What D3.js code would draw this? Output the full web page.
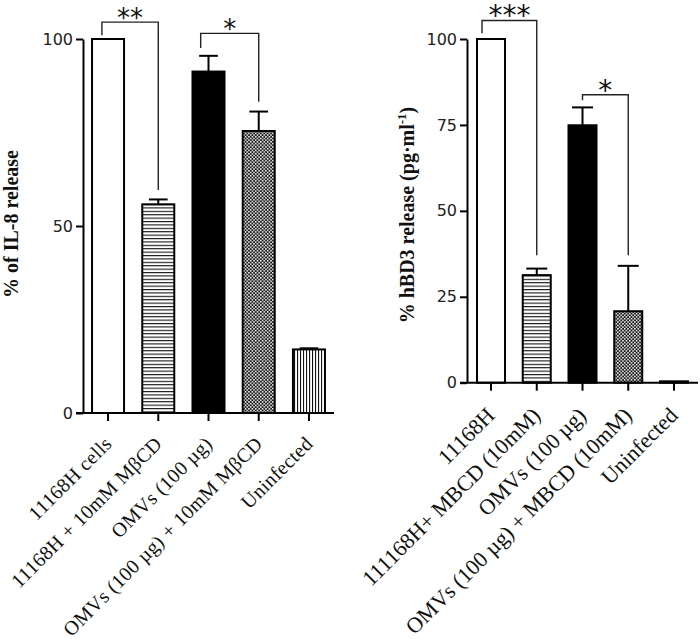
<!DOCTYPE html>
<html>
<head>
<meta charset="utf-8">
<script src="https://cdn.jsdelivr.net/npm/d3@7"></script>
<style>
  html, body { margin: 0; padding: 0; background: #fff; }
  svg { display: block; }
</style>
</head>
<body>
<script>
// ---------- DATA ----------
const leftCategories = ["11168H cells", "11168H + 10mM MβCD", "OMVs (100 µg)", "OMVs (100 µg) + 10mM MβCD", "Uninfected"];
const leftValues = [100, 55.8, 91.3, 75.4, 17.0];
const leftErrors = [0, 1.3, 4.2, 5.2, 0.3];
const leftTicks = [0, 50, 100];
const leftTitle = "% of IL-8 release";
const leftSig = [
  { a: 0, b: 1, top: 104.5, aEnd: 101.0, bEnd: 59.6, label: "**" },
  { a: 2, b: 3, top: 101.5, aEnd: 97.6, bEnd: 83.2, label: "*" }
];

const rightCategories = ["11168H", "111168H+ MBCD (10mM)", "OMVs (100 µg)", "OMVs (100 µg) + MBCD (10mM)", "Uninfected"];
const rightValues = [100, 31.3, 74.9, 20.8, 0.4];
const rightErrors = [0, 1.9, 5.2, 13.2, 0];
const rightTicks = [0, 25, 50, 75, 100];
const rightTitle = "% hBD3 release (pg·ml";
const rightTitleSup = "-1";
const rightSig = [
  { a: 0, b: 1, top: 105.4, aEnd: 101.7, bEnd: 37.1, label: "***" },
  { a: 2, b: 3, top: 83.8, aEnd: 82.2, bEnd: 37.1, label: "*" }
];

// ---------- STYLE ----------
const barFills = ["#fff", "url(#hstripe)", "#000", "url(#checker)", "url(#vstripe)"];
const serif = "'Liberation Serif', 'Times New Roman', serif";
const sans = "'DejaVu Sans', sans-serif";

const W = 700, H = 639;
const svg = d3.select("body").append("svg").attr("width", W).attr("height", H);
svg.append("rect").attr("width", W).attr("height", H).attr("fill", "#fff");

const defs = svg.append("defs");
const hs = defs.append("pattern").attr("id", "hstripe").attr("patternUnits", "userSpaceOnUse").attr("width", 4).attr("height", 3.4);
hs.append("rect").attr("width", 4).attr("height", 3.4).attr("fill", "#fff");
hs.append("rect").attr("width", 4).attr("height", 1.1).attr("fill", "#111");
const vs = defs.append("pattern").attr("id", "vstripe").attr("patternUnits", "userSpaceOnUse").attr("width", 3).attr("height", 4);
vs.append("rect").attr("width", 3).attr("height", 4).attr("fill", "#fff");
vs.append("rect").attr("width", 1.1).attr("height", 4).attr("fill", "#111");
const ck = defs.append("pattern").attr("id", "checker").attr("patternUnits", "userSpaceOnUse").attr("width", 3.4).attr("height", 3.4);
ck.append("rect").attr("width", 3.4).attr("height", 3.4).attr("fill", "#1a1a1a");
ck.append("rect").attr("width", 1.5).attr("height", 1.5).attr("fill", "#fff");
ck.append("rect").attr("x", 1.7).attr("y", 1.7).attr("width", 1.5).attr("height", 1.5).attr("fill", "#fff");

function drawChart(cfg) {
  const g = svg.append("g");
  const x = d3.scaleBand().domain(cfg.categories).range([cfg.x0, cfg.x1])
    .paddingInner(cfg.pi).paddingOuter(cfg.po);
  const y = d3.scaleLinear().domain([0, 100]).range([cfg.y0, cfg.y1]);
  const bw = x.bandwidth();
  const data = cfg.categories.map((c, i) => ({ c, v: cfg.values[i], e: cfg.errors[i], f: barFills[i] }));

  // error bars
  const eg = g.append("g").attr("stroke", "#000").attr("stroke-width", 2).attr("fill", "none");
  data.filter(d => d.e > 0).forEach(d => {
    const cx = x(d.c) + bw / 2;
    eg.append("line").attr("x1", cx).attr("x2", cx).attr("y1", y(d.v)).attr("y2", y(d.v + d.e));
    eg.append("line").attr("x1", cx - bw * cfg.cap / 2).attr("x2", cx + bw * cfg.cap / 2)
      .attr("y1", y(d.v + d.e)).attr("y2", y(d.v + d.e));
  });

  // bars
  g.append("g").selectAll("rect").data(data).join("rect")
    .attr("x", d => x(d.c) + 1)
    .attr("y", d => y(d.v))
    .attr("width", bw - 2)
    .attr("height", d => y(0) - y(d.v))
    .attr("fill", d => d.f)
    .attr("stroke", "#000")
    .attr("stroke-width", 2);

  // y axis
  const ya = g.append("g").attr("transform", `translate(${cfg.x0},0)`)
    .call(d3.axisLeft(y).tickValues(cfg.ticks).tickSize(7).tickSizeOuter(0).tickPadding(3));
  ya.select(".domain").attr("stroke-width", 2);
  ya.selectAll(".tick line").attr("stroke-width", 2);
  ya.selectAll(".tick text").attr("font-family", sans).attr("font-size", 16).attr("fill", "#222");

  // x axis
  const xa = g.append("g").attr("transform", `translate(0,${cfg.y0})`)
    .call(d3.axisBottom(x).tickSize(8).tickSizeOuter(0));
  xa.select(".domain").remove();
  xa.append("line").attr("x1", cfg.x0 - 7).attr("x2", cfg.x1).attr("y1", 0).attr("y2", 0)
    .attr("stroke", "#000").attr("stroke-width", 2);
  xa.selectAll(".tick line").attr("stroke-width", 2);
  xa.selectAll(".tick text")
    .attr("x", 0).attr("y", 0).attr("dy", 0)
    .attr("transform", `translate(5,${cfg.labelDy}) rotate(-45)`)
    .attr("text-anchor", "end")
    .attr("font-family", serif).attr("font-size", cfg.labelSize)
    .attr("letter-spacing", cfg.labelLs).attr("fill", "#111");

  // significance brackets
  const sg = g.append("g");
  cfg.sig.forEach(s => {
    const xa_ = x(cfg.categories[s.a]) + bw / 2 + (s.aOff || 0) * bw;
    const xb_ = x(cfg.categories[s.b]) + bw / 2;
    sg.append("path")
      .attr("d", `M${xa_},${y(s.aEnd)}V${y(s.top)}H${xb_}V${y(s.bEnd)}`)
      .attr("fill", "none").attr("stroke", "#222").attr("stroke-width", 1.4);
    sg.append("text").attr("x", (xa_ + xb_) / 2).attr("y", y(s.top) + cfg.starDy)
      .attr("text-anchor", "middle").attr("font-family", sans).attr("font-size", cfg.starSize)
      .attr("fill", "#111").text(s.label);
  });

  // y title
  const t = g.append("text")
    .attr("transform", `translate(${cfg.titleX},${cfg.titleY}) rotate(-90)`)
    .attr("text-anchor", "middle").attr("font-family", serif).attr("font-weight", "bold")
    .attr("font-size", 20).attr("fill", "#111");
  t.append("tspan").text(cfg.title);
  if (cfg.titleSup) {
    t.append("tspan").attr("dy", -8).attr("font-size", 13).text(cfg.titleSup);
    t.append("tspan").attr("dy", 8).text(")");
  }
}

leftSig[0].aOff = -0.18; leftSig[1].aOff = -0.23; rightSig[0].aOff = -0.3;

drawChart({
  categories: leftCategories, values: leftValues, errors: leftErrors, ticks: leftTicks,
  sig: leftSig, title: leftTitle,
  x0: 83, x1: 334, pi: 0.323, po: 0.16, y0: 413, y1: 39, cap: 0.55,
  titleX: 18, titleY: 224, starSize: 26, starDy: 5, labelSize: 20, labelLs: 0.3, labelDy: 32
});
drawChart({
  categories: rightCategories, values: rightValues, errors: rightErrors, ticks: rightTicks,
  sig: rightSig, title: rightTitle, titleSup: rightTitleSup,
  x0: 467, x1: 698, pi: 0.344, po: 0.197, y0: 382.7, y1: 39, cap: 0.7,
  titleX: 414, titleY: 215, starSize: 28, starDy: 5, labelSize: 22, labelLs: 0, labelDy: 34
});
</script>
</body>
</html>
